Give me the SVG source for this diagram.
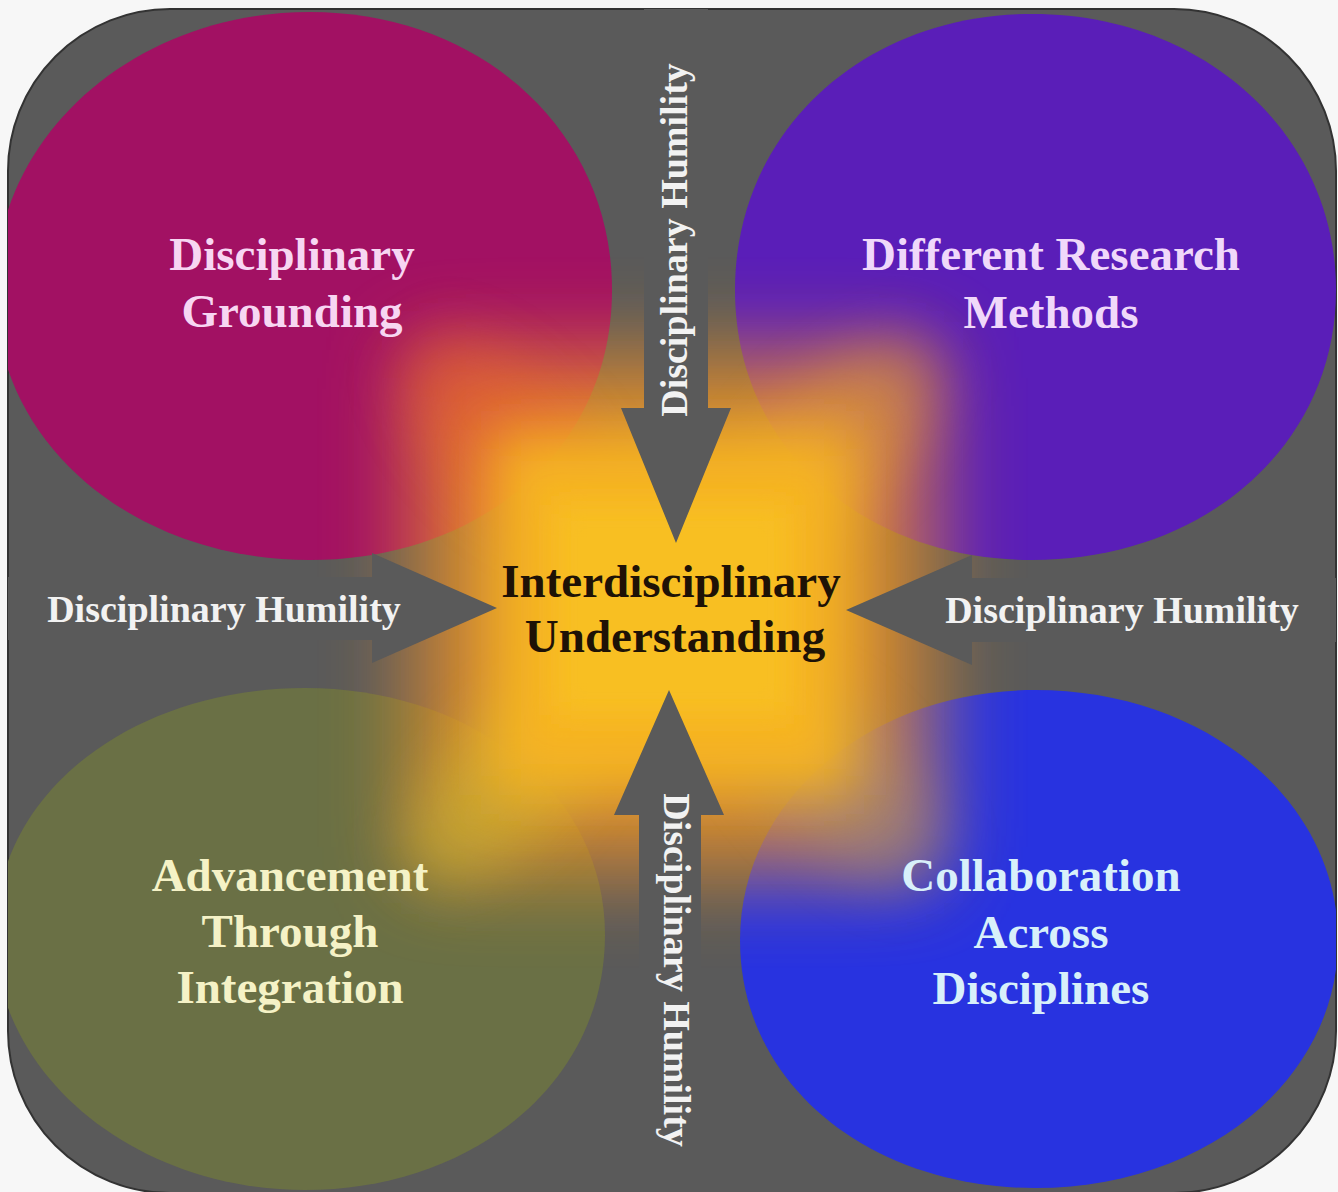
<svg xmlns="http://www.w3.org/2000/svg" width="1338" height="1192" viewBox="0 0 1338 1192">
  <style>
    .lbl { font-family: "Liberation Serif", "Times New Roman", serif; font-weight: bold; font-size: 47px; text-anchor: middle; }
    .hum { font-family: "Liberation Serif", "Times New Roman", serif; font-weight: bold; font-size: 38px; text-anchor: middle; fill: #f2f2f2; }
    .arrow { fill: #5a5a5a; }
  </style>
  <defs>
    <clipPath id="frame">
      <rect x="8" y="9" width="1328" height="1184" rx="162" ry="162"/>
    </clipPath>
    <filter id="blurBig" x="-60%" y="-60%" width="220%" height="220%">
      <feGaussianBlur stdDeviation="42"/>
    </filter>
    <filter id="blurMid" x="-60%" y="-60%" width="220%" height="220%">
      <feGaussianBlur stdDeviation="28"/>
    </filter>
    <filter id="blurSmall" x="-60%" y="-60%" width="220%" height="220%">
      <feGaussianBlur stdDeviation="14"/>
    </filter>
  </defs>

  <rect x="0" y="0" width="1338" height="1192" fill="#f7f7f7"/>
  <rect id="background" x="8" y="9" width="1328" height="1184" rx="162" ry="162" fill="#5a5a5a" stroke="#333333" stroke-width="2"/>

  <g clip-path="url(#frame)">
    <g id="node-disciplinary-grounding">
      <path d="M -5,290 C -5,135 135,12 310,12 C 480,12 612,130 612,290 C 612,450 480,560 310,560 C 135,560 -5,445 -5,290 Z" fill="#a21163"/>
    </g>
    <g id="node-different-research-methods">
      <path d="M 735,290 C 735,130 865,14 1032,14 C 1205,14 1336,135 1336,290 C 1336,445 1205,560 1032,560 C 865,560 735,450 735,290 Z" fill="#5a1eb8"/>
    </g>
    <g id="node-advancement">
      <path d="M -5,935 C -5,790 135,688 305,688 C 470,688 605,790 605,935 C 605,1085 470,1190 305,1190 C 135,1190 -5,1075 -5,935 Z" fill="#6a7045"/>
    </g>
    <g id="node-collaboration">
      <path d="M 740,940 C 740,800 870,690 1035,690 C 1205,690 1338,800 1338,940 C 1338,1080 1205,1188 1035,1188 C 870,1188 740,1085 740,940 Z" fill="#2833e0"/>
    </g>

    <g id="node-center-glow">
      <rect x="410" y="350" width="525" height="525" fill="#eb8f2a" opacity="0.78" filter="url(#blurBig)"/>
      <ellipse cx="510" cy="440" rx="130" ry="60" transform="rotate(45 510 440)" fill="#e25a30" opacity="0.55" filter="url(#blurMid)"/>
      <ellipse cx="835" cy="440" rx="130" ry="60" transform="rotate(-45 835 440)" fill="#d8963c" opacity="0.5" filter="url(#blurMid)"/>
      <ellipse cx="510" cy="780" rx="130" ry="60" transform="rotate(-45 510 780)" fill="#c8b432" opacity="0.6" filter="url(#blurMid)"/>
      <ellipse cx="835" cy="780" rx="130" ry="60" transform="rotate(45 835 780)" fill="#9a8a7a" opacity="0.5" filter="url(#blurMid)"/>
      <rect x="490" y="430" width="365" height="365" fill="#f6b424" filter="url(#blurMid)"/>
      <rect x="555" y="505" width="235" height="210" fill="#f8bf20" filter="url(#blurSmall)"/>
    </g>
  </g>

  <g id="connectors">
    <g id="arrow-top">
      <path class="arrow" d="M 644,9 L 708,9 L 708,408 L 731,408 L 676,543 L 621,408 L 644,408 Z"/>
      <text class="hum" transform="translate(676,240) rotate(-90)" y="11">Disciplinary Humility</text>
    </g>
    <g id="arrow-bottom">
      <path class="arrow" d="M 639,1192 L 701,1192 L 701,815 L 724,815 L 669,690 L 614,815 L 639,815 Z"/>
      <text class="hum" transform="translate(672,970) rotate(90)" y="8">Disciplinary Humility</text>
    </g>
    <g id="arrow-left">
      <path class="arrow" d="M 8,577 L 372,577 L 372,553 L 497,608 L 372,663 L 372,640 L 8,640 Z"/>
      <text class="hum" x="224" y="622">Disciplinary Humility</text>
    </g>
    <g id="arrow-right">
      <path class="arrow" d="M 1336,578 L 972,578 L 972,555 L 846,610 L 972,665 L 972,642 L 1336,642 Z"/>
      <text class="hum" x="1122" y="623">Disciplinary Humility</text>
    </g>
  </g>

  <g id="labels">
    <text class="lbl" fill="#f7d6f2"><tspan x="292" y="270">Disciplinary</tspan><tspan x="292" y="327">Grounding</tspan></text>
    <text class="lbl" fill="#f0d8fa"><tspan x="1051" y="270">Different Research</tspan><tspan x="1051" y="328">Methods</tspan></text>
    <text class="lbl" fill="#f5f2c6"><tspan x="290" y="891">Advancement</tspan><tspan x="290" y="947">Through</tspan><tspan x="290" y="1003">Integration</tspan></text>
    <text class="lbl" fill="#d8f0fa"><tspan x="1041" y="891">Collaboration</tspan><tspan x="1041" y="948">Across</tspan><tspan x="1041" y="1004">Disciplines</tspan></text>
    <text class="lbl" fill="#1e1206"><tspan x="671" y="597">Interdisciplinary</tspan><tspan x="675" y="652">Understanding</tspan></text>
  </g>
</svg>
